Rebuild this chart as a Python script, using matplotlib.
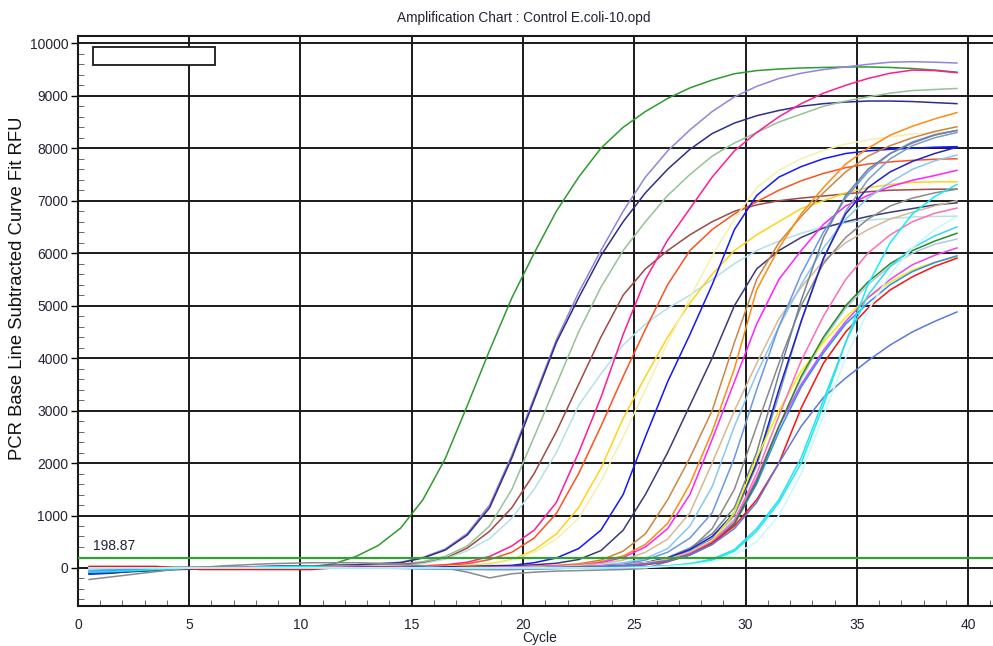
import numpy as np
import matplotlib
matplotlib.use("Agg")
import matplotlib.pyplot as plt
from matplotlib.patches import Rectangle
from matplotlib.ticker import MultipleLocator

plt.rcParams['font.family'] = ['Liberation Sans', 'DejaVu Sans']

# cycle positions of the 40 readings
cycles = np.arange(0.5, 40.0, 1.0)
threshold = 198.87

# RFU readings per well, one value per cycle
green_early = [10, 10, 10, 10, 5, 5, 0, 0, 0, 0,
               20, 80, 220, 430, 760, 1300, 2080, 3100, 4150, 5150,
               6000, 6800, 7450, 8000, 8400, 8700, 8950, 9150, 9300, 9420,
               9480, 9510, 9530, 9540, 9550, 9550, 9540, 9520, 9490, 9450]
lavender = [-60, -40, -20, 0, 10, 20, 20, 20, 30, 40,
            40, 50, 60, 80, 110, 200, 360, 660, 1200, 2150,
            3250, 4350, 5250, 6050, 6800, 7450, 7950, 8350, 8700, 8980,
            9180, 9330, 9430, 9500, 9550, 9600, 9640, 9650, 9640, 9625]
navy = [-100, -80, -60, -40, -20, 0, 10, 20, 30, 40,
        40, 50, 60, 80, 100, 190, 340, 630, 1150, 2100,
        3200, 4300, 5150, 5950, 6600, 7150, 7600, 7980, 8280, 8480,
        8620, 8720, 8800, 8850, 8880, 8900, 8900, 8890, 8870, 8850]
seagreen = [0, 0, 0, 10, 10, 10, 10, 20, 20, 20,
            30, 30, 40, 50, 70, 120, 220, 420, 800, 1500,
            2500, 3500, 4500, 5350, 6050, 6600, 7100, 7500, 7850, 8100,
            8300, 8500, 8650, 8800, 8900, 8980, 9050, 9100, 9120, 9140]
brown = [0, 0, 10, 10, 10, 10, 10, 10, 10, 20,
         20, 30, 40, 50, 70, 95, 180, 380, 700, 1150,
         1800, 2600, 3500, 4400, 5200, 5700, 6050, 6350, 6600, 6800,
         6920, 7000, 7050, 7090, 7130, 7170, 7200, 7210, 7220, 7220]
powder = [0, -10, -10, 0, 0, 10, 10, 10, 20, 20,
          20, 30, 30, 40, 50, 80, 170, 330, 560, 950,
          1500, 2200, 3100, 3700, 4250, 4650, 4950, 5200, 5500, 5800,
          6050, 6230, 6380, 6500, 6580, 6630, 6660, 6690, 6700, 6705]
deeppink = [0, 0, 0, 0, 0, 0, 0, 10, 10, 10,
            10, 10, 20, 20, 30, 40, 60, 110, 220, 420,
            720, 1250, 2200, 3250, 4450, 5500, 6250, 6850, 7450, 7950,
            8300, 8600, 8850, 9050, 9200, 9330, 9430, 9490, 9480, 9440]
orangered = [0, 0, 0, 0, 0, 0, 0, 0, 0, 10,
             10, 10, 10, 20, 20, 30, 50, 80, 160, 300,
             570, 1040, 1800, 2700, 3650, 4550, 5400, 6050, 6450, 6750,
             6980, 7200, 7380, 7520, 7630, 7700, 7740, 7770, 7790, 7800]
gold = [0, 0, 0, 0, 0, 0, 0, 0, 0, 0,
        0, 0, 0, 0, 10, 20, 30, 50, 80, 160,
        340, 650, 1150, 1900, 2850, 3650, 4400, 5050, 5600, 6050,
        6350, 6600, 6850, 7000, 7150, 7250, 7310, 7350, 7360, 7360]
paleyellow = [0, 0, 0, 0, 0, 0, 0, 0, 0, 0,
              0, 0, 0, 0, 0, 10, 20, 30, 60, 150,
              300, 550, 950, 1650, 2500, 3400, 4300, 5150, 5950, 6650,
              7250, 7580, 7800, 7960, 8080, 8160, 8220, 8270, 8300, 8320]
blue = [-120, -100, -60, -30, 0, 0, 0, 0, 0, 0,
        0, 0, 10, 10, 10, 20, 20, 30, 40, 50,
        100, 190, 370, 720, 1400, 2500, 3550, 4450, 5400, 6450,
        7100, 7450, 7650, 7800, 7900, 7950, 7980, 8000, 8020, 8030]
navy2 = [-100, -90, -70, -50, -30, -20, 0, 0, 0, 0,
         0, 0, 0, 0, 0, 0, 10, 20, 30, 40,
         60, 90, 160, 330, 720, 1400, 2200, 3100, 4000, 5000,
         5700, 6050, 6300, 6480, 6600, 6700, 6780, 6850, 6920, 6960]
peru = [0, 0, 0, 0, 0, 0, 0, 0, 0, 0,
        0, 0, 0, 0, 0, 0, 0, 10, 10, 20,
        30, 50, 80, 150, 320, 650, 1300, 2100, 3000, 4300,
        5500, 6200, 6700, 7150, 7550, 7850, 8050, 8200, 8320, 8410]
darkorange = [0, 0, 0, 0, 0, 0, 0, 0, 0, 0,
              0, 0, 0, 0, 0, 0, 0, 10, 10, 20,
              30, 40, 60, 120, 230, 450, 850, 1600, 2600, 3800,
              5300, 6100, 6750, 7250, 7700, 8000, 8250, 8420, 8560, 8680]
magenta = [0, 0, 0, 0, 0, 0, 0, 0, 0, 0,
           0, 0, 0, 0, 0, 0, 0, 0, 10, 20,
           30, 40, 50, 100, 200, 400, 750, 1400, 2450, 3550,
           4650, 5500, 6050, 6550, 6900, 7100, 7270, 7390, 7480, 7580]
tan = [0, 0, 0, 0, 0, 0, 0, 0, 0, 0,
       0, 0, 0, 0, 0, 0, 0, 0, 0, 10,
       20, 30, 50, 80, 150, 300, 550, 1050, 2000, 3000,
       3900, 4750, 5350, 5850, 6200, 6450, 6650, 6780, 6900, 7000]
skyblue = [-40, -30, -20, -10, 0, 0, 0, 0, 0, 0,
           0, 0, 0, 0, 0, 0, 0, 0, 0, -10,
           -10, 0, 20, 50, 100, 180, 370, 800, 1550, 2700,
           3700, 4600, 5400, 6100, 6650, 7050, 7350, 7600, 7760, 7870]
cornflower = [-60, -40, -20, 0, 0, 0, 0, 0, 0, 0,
              0, 0, 0, 0, -10, -20, -20, -20, -30, -30,
              -20, -10, 0, 30, 70, 150, 300, 570, 1050, 2100,
              3400, 4600, 5600, 6400, 7050, 7550, 7900, 8120, 8260, 8340]
gray = [-220, -170, -120, -70, -20, 10, 40, 60, 80, 90,
        100, 100, 100, 90, 70, 40, 0, -80, -190, -110,
        -80, -60, -50, -40, -30, -10, 120, 350, 750, 1500,
        2700, 3900, 5000, 5800, 6300, 6650, 6900, 7050, 7150, 7220]
slategray = [0, 0, 0, 0, 0, 0, 0, 0, 0, 0,
             0, 0, 0, 0, 0, 0, 0, 0, 0, 0,
             0, 10, 20, 40, 60, 100, 200, 380, 650, 1150,
             2200, 3700, 5100, 6300, 7100, 7600, 7900, 8100, 8250, 8340]
steelgray = [0, 0, 0, 0, 0, 0, 0, 0, 0, 0,
             0, 0, 0, 0, 0, -10, -20, -30, -30, -30,
             -20, -10, 0, 20, 50, 90, 180, 330, 560, 1000,
             1950, 3300, 4700, 5900, 6800, 7400, 7800, 8050, 8200, 8300]
mediumblue = [0, 0, 0, 0, 0, 0, 0, 0, 0, 0,
              0, 0, 0, 0, 0, 0, 0, 0, 0, 0,
              0, 10, 20, 40, 60, 100, 190, 350, 600, 1050,
              2000, 3400, 4700, 5900, 6750, 7250, 7550, 7750, 7900, 8020]
steelblue_l = [0, 0, 0, 0, 0, 0, 0, 0, 0, 0,
               0, 0, 0, 0, 0, 0, 0, 0, 0, 0,
               0, 10, 20, 40, 60, 100, 170, 300, 520, 930,
               1700, 2700, 3600, 4350, 4950, 5400, 5750, 6000, 6170, 6270]
yellow = [0, 0, 0, 0, 0, 0, 0, 0, 0, 0,
          0, 0, 0, 0, 0, 0, 0, 0, 0, 0,
          0, 10, 20, 30, 50, 90, 160, 290, 520, 1050,
          2100, 3000, 3750, 4300, 4780, 5150, 5450, 5680, 5830, 5930]
hotpink = [0, 0, 0, 0, 0, 0, 0, 0, 0, 0,
           0, 0, 0, 0, 0, 0, 0, 0, 0, 0,
           0, 10, 20, 30, 50, 80, 150, 280, 500, 900,
           1800, 2900, 3950, 4800, 5500, 6000, 6350, 6600, 6760, 6860]
violet = [0, 0, 0, 0, 0, 0, 0, 0, 0, 0,
          0, 0, 0, 0, 0, 0, 0, 0, 0, 0,
          0, 10, 20, 30, 50, 80, 140, 270, 480, 860,
          1700, 2700, 3500, 4150, 4700, 5150, 5500, 5780, 5960, 6100]
dodger = [-80, -60, -40, -20, 0, 0, 0, 0, 0, 0,
          0, 0, 0, 0, 0, 0, 0, 0, 0, 0,
          0, 10, 20, 30, 40, 70, 130, 250, 450, 840,
          1600, 2600, 3450, 4100, 4650, 5050, 5400, 5650, 5820, 5950]
forest = [0, 0, 0, 0, 0, 0, 0, 0, 0, 0,
          0, 0, 0, 0, 0, 0, 0, 0, 0, 0,
          0, 0, 10, 20, 40, 70, 130, 250, 450, 840,
          1650, 2700, 3650, 4400, 5000, 5450, 5800, 6050, 6230, 6380]
red = [30, 30, 30, 30, 0, -30, -30, -30, -30, -30,
       -30, 0, 0, 0, 0, 0, 0, 0, 0, 0,
       0, 0, 10, 20, 30, 60, 120, 250, 475, 800,
       1300, 2000, 3050, 3900, 4500, 4950, 5300, 5550, 5750, 5905]
royal = [0, 0, 0, 0, 0, 0, 0, 0, 0, 0,
         0, 0, 0, 0, 0, 0, 0, 0, 0, 0,
         0, 0, 10, 20, 40, 70, 130, 250, 450, 750,
         1250, 2000, 2700, 3250, 3620, 3950, 4250, 4500, 4700, 4880]
cyan = [-80, -70, -50, -30, -10, 0, 0, 0, 20, 30,
        30, 0, 0, 0, 0, 0, 0, 0, 0, 0,
        0, 0, 0, 0, 10, 20, 40, 80, 150, 320,
        700, 1250, 2000, 3100, 4300, 5400, 6200, 6750, 7080, 7310]
cyan2 = [0, 0, 0, 0, 0, 0, 0, 0, 0, 0,
         0, 0, 0, 0, 0, 0, 0, 0, 0, 0,
         0, 0, 0, 0, 10, 20, 40, 80, 170, 350,
         750, 1300, 2100, 3200, 4300, 5200, 5750, 6100, 6330, 6500]
lightcyan = [0, 0, 0, 0, 0, 0, 0, 0, 0, 0,
             0, 0, 0, 0, 0, 0, 0, 0, 0, 0,
             0, 0, 0, 0, 0, 10, 30, 60, 120, 250,
             500, 1000, 1800, 2900, 4000, 4900, 5600, 6100, 6450, 6700]

wells = [green_early, lavender, navy, seagreen, brown, powder, deeppink,
         orangered, gold, paleyellow, blue, navy2, peru, darkorange, magenta,
         tan, skyblue, cornflower, gray, slategray, steelgray, mediumblue,
         steelblue_l, yellow, hotpink, violet, dodger, forest, red, royal,
         cyan, cyan2, lightcyan]
colors = ['#2f9a2f', '#9383dc', '#2e2e8a', '#96c296', '#a04a44', '#b4e0e8',
          '#ff1c94', '#ff5020', '#ffd21a', '#f4f0b0', '#1515ff', '#3a3a78',
          '#cd8540', '#ff8c10', '#ff22ff', '#d6b894', '#88c8f0', '#6a96ea',
          '#8a8a8a', '#6f8298', '#7d9cc0', '#2020cc', '#b0c8e4', '#f0f000',
          '#ff6eb4', '#f040f0', '#2a8cff', '#2a8a2a', '#ff1010', '#5a7ae0',
          '#10f0f8', '#30dcee', '#c8f8ff']

fig = plt.figure(figsize=(9.93, 6.46), dpi=100)
ax = fig.add_axes([0.0785, 0.062, 0.9215, 0.8823])

for vals, col in zip(wells, colors):
    ax.plot(cycles, vals, color=col, lw=1.1, zorder=2)

ax.axhline(threshold, color='#33a033', lw=1.6, zorder=3)
ax.text(0.68, threshold + 90, f'{threshold:.2f}', fontsize=10,
        color='#222233', va='bottom', ha='left')

ax.set_xlim(0, 41.12)
ax.set_ylim(-724, 10140)
ax.xaxis.set_major_locator(MultipleLocator(5))
ax.xaxis.set_minor_locator(MultipleLocator(1))
ax.set_yticks(np.arange(0, 10001, 1000))
ax.yaxis.set_minor_locator(MultipleLocator(200))
ax.grid(True, which='major', color='#1a1a1a', lw=1.4)
ax.set_axisbelow(True)

ax.tick_params(axis='x', which='major', length=0, pad=9, labelsize=10,
               labelcolor='#222233')
ax.tick_params(axis='x', which='minor', direction='in', length=4,
               color='#555555')
ax.tick_params(axis='y', which='major', direction='out', length=5, width=1,
               pad=2, labelsize=10, labelcolor='#222233')
ax.tick_params(axis='y', which='minor', direction='in', length=4,
               color='#555555')
for side in ['left', 'bottom', 'top']:
    ax.spines[side].set_linewidth(1.5)
    ax.spines[side].set_color('#1a1a1a')
ax.spines['right'].set_visible(False)

ax.add_patch(Rectangle((0.0164, 0.949), 0.133, 0.0316, transform=ax.transAxes,
                       facecolor='white', edgecolor='#1a1a1a', lw=1.3,
                       zorder=5))

fig.text(18 / 993, 1 - 288 / 646, 'PCR Base Line Subtracted Curve Fit RFU',
         rotation=90, ha='center', va='center', fontsize=13.3,
         color='#111111')
fig.text(524 / 993, 1 - 18 / 646, 'Amplification Chart : Control E.coli-10.opd',
         ha='center', va='center', fontsize=9.8, color='#222233')
fig.text(540 / 993, 8 / 646, 'Cycle', ha='center', va='center', fontsize=10,
         color='#222233')

fig.savefig('out.png', dpi=100)
